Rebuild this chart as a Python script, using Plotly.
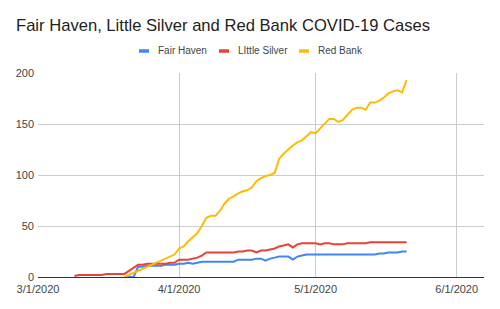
import pandas as pd
import plotly.graph_objects as go

# ---- data ----
fair_haven_start = "2020-03-20"
fair_haven = [0, 0, 0, 10, 10, 11, 11, 11, 11, 12, 12, 12,
              13, 13, 14, 13, 14, 15, 15, 15, 15, 15,
              15, 15, 15, 17, 17, 17, 17, 18, 18, 16,
              18, 19, 20, 20, 20, 17, 20, 21, 22, 22,
              22, 22, 22, 22, 22, 22, 22, 22, 22, 22,
              22, 22, 22, 22, 23, 23, 24, 24, 24, 25, 25]

little_silver_start = "2020-03-09"
little_silver = [1, 2, 2, 2, 2, 2, 2, 3, 3, 3, 3, 3,
                 6, 9, 12, 12, 13, 13, 13, 13, 13, 14, 14,
                 17, 17, 17, 18, 19, 21, 24, 24, 24, 24,
                 24, 24, 24, 25, 25, 26, 26, 24, 26, 26,
                 27, 28, 30, 31, 32, 29, 32, 33, 33, 33,
                 33, 32, 33, 33, 32, 32, 32, 33, 33, 33,
                 33, 33, 34, 34, 34, 34, 34, 34, 34, 34, 34]

red_bank_start = "2020-03-20"
red_bank = [0, 2, 4, 6, 8, 10, 12, 14, 16, 18, 20, 22,
            28, 30, 35, 39, 43, 50, 58, 60, 60, 65,
            72, 77, 79, 82, 84, 85, 88, 94, 97, 99,
            100, 102, 116, 121, 125, 129, 132, 134, 138, 142,
            141, 146, 151, 155, 155, 152, 154, 159, 164, 166,
            166, 164, 171, 171, 173, 176, 180, 182, 183, 181, 193]

series_names = ["Fair Haven", "LIttle Silver", "Red Bank"]
series_colors = ["#4285F4", "#EA4335", "#FBBC04"]

x_tick_vals = ["2020-03-01", "2020-04-01", "2020-05-01", "2020-06-01"]
x_tick_text = ["3/1/2020", "4/1/2020", "5/1/2020", "6/1/2020"]
y_tick_vals = [0, 50, 100, 150, 200]

FONT = "Liberation Sans, Arial, sans-serif"

fig = go.Figure()
for name, start, vals, col in zip(series_names,
                                  [fair_haven_start, little_silver_start, red_bank_start],
                                  [fair_haven, little_silver, red_bank],
                                  series_colors):
    dates = pd.date_range(start, periods=len(vals), freq="D")
    fig.add_trace(go.Scatter(x=dates, y=vals, mode="lines", name=name,
                             line=dict(color=col, width=2), showlegend=False))

W, H = 500, 309
L, R, T, B = 38, 16, 73, 32
pw, ph = W - L - R, H - T - B

def px_x(p):
    return (p - L) / pw

def px_y(p):
    return (H - B - p) / ph

# manual legend
leg_y = 51
marker_x = [139, 219, 299]
for name, col, mx in zip(series_names, series_colors, marker_x):
    fig.add_shape(type="line", xref="paper", yref="paper",
                  x0=px_x(mx), x1=px_x(mx + 10), y0=px_y(leg_y), y1=px_y(leg_y),
                  line=dict(color=col, width=3.5))
    fig.add_annotation(xref="paper", yref="paper", x=px_x(mx + 17), y=px_y(leg_y),
                       xanchor="left", yanchor="middle", text=name, showarrow=False,
                       font=dict(family=FONT, size=10, color="#444444"))

fig.update_layout(
    width=W, height=H,
    margin=dict(l=L, r=R, t=T, b=B),
    paper_bgcolor="white", plot_bgcolor="white",
    title=dict(text="Fair Haven, Little Silver and Red Bank COVID-19 Cases",
               x=16 / W, xref="container", xanchor="left",
               y=1 - 25.5 / H, yref="container", yanchor="middle",
               font=dict(family=FONT, size=16.6, color="#222222")),
    xaxis=dict(range=["2020-03-01", "2020-06-07"], tickvals=x_tick_vals, ticktext=x_tick_text,
               showgrid=True, gridcolor="#cccccc", gridwidth=1, zeroline=False,
               showline=False, ticks="", ticklabelstandoff=4,
               tickfont=dict(family=FONT, size=11, color="#444444")),
    yaxis=dict(range=[0, 200], tickvals=y_tick_vals,
               showgrid=True, gridcolor="#cccccc", gridwidth=1,
               zeroline=True, zerolinecolor="#333333", zerolinewidth=1,
               showline=False, ticks="", ticklabelstandoff=3,
               tickfont=dict(family=FONT, size=11, color="#444444")),
    showlegend=False,
)

fig.write_html("out.html")
